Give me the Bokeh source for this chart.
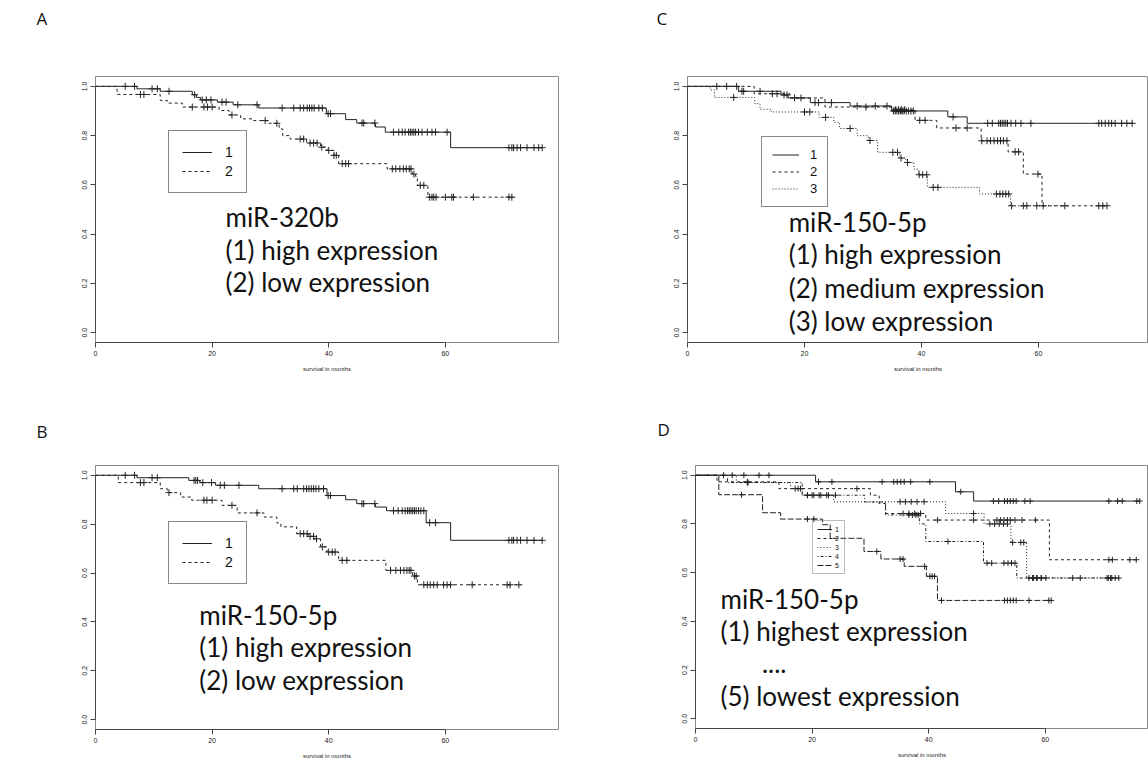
import numpy as np
from bokeh.plotting import figure
from bokeh.layouts import column, row
from bokeh.models import Label, Legend, LegendItem, FixedTicker, Range1d, NumeralTickFormatter, Title
from bokeh.embed import file_html
from bokeh.resources import INLINE

# ---------------- data ----------------
X_TICKS = [0, 20, 40, 60]
Y_TICKS = [0.0, 0.2, 0.4, 0.6, 0.8, 1.0]
X_LABEL = "survival in months"

# Panel A : miR-320b
A1_t = [7.1, 11.1, 16.6, 17.3, 18.0, 20.9, 23.6, 28.0, 39.6, 42.9, 44.8, 48.0, 49.7, 60.9]
A1_s = [0.99, 0.98, 0.966, 0.955, 0.945, 0.936, 0.925, 0.912, 0.889, 0.865, 0.851, 0.835, 0.814, 0.751]
A1_c = [5.1, 6.7, 9.7, 10.6, 12.6, 17.0, 18.3, 19.0, 19.8, 21.7, 22.4, 24.4, 27.7, 32.0, 34.0, 35.1, 35.7,
        36.3, 36.7, 37.1, 37.5, 38.3, 38.9, 39.9, 40.3, 45.7, 46.0, 47.9, 51.1, 52.0, 52.6, 53.1, 53.7,
        54.0, 54.3, 54.6, 54.9, 55.4, 56.0, 56.9, 57.7, 58.3, 60.3, 70.9, 71.4, 71.7, 72.3, 72.9, 74.0,
        75.2, 76.0, 76.6]
A1_end = 76.6
A2_t = [3.7, 11.1, 12.3, 14.9, 21.2, 22.9, 24.9, 27.1, 29.5, 31.5, 32.1, 33.4, 36.2, 38.6, 39.7, 40.9,
        41.7, 50.0, 54.3, 54.9, 55.2, 57.0]
A2_s = [0.967, 0.943, 0.932, 0.916, 0.902, 0.884, 0.868, 0.861, 0.85, 0.827, 0.80, 0.786, 0.77, 0.753,
        0.74, 0.72, 0.686, 0.665, 0.644, 0.634, 0.598, 0.55]
A2_c = [7.7, 8.3, 16.6, 18.6, 19.2, 20.0, 23.4, 29.1, 31.1, 35.1, 35.7, 36.8, 37.4, 38.0, 38.8, 40.0,
        40.9, 41.3, 42.3, 42.9, 43.4, 50.9, 51.5, 52.2, 52.8, 53.3, 53.8, 54.1, 54.6, 55.7, 56.3, 57.3,
        57.7, 58.0, 58.4, 60.0, 61.1, 61.4, 64.8, 70.9, 71.4]
A2_end = 71.7

# Panel B : miR-150-5p, 2 groups
B1_t = [7.1, 16.0, 17.9, 20.6, 28.0, 39.7, 42.9, 44.8, 48.0, 49.9, 56.7, 60.9]
B1_s = [0.99, 0.979, 0.97, 0.959, 0.945, 0.917, 0.90, 0.884, 0.87, 0.855, 0.806, 0.734]
B1_c = [5.1, 6.7, 9.7, 10.6, 16.9, 17.2, 17.5, 18.4, 19.9, 21.4, 22.1, 24.6, 32.0, 34.0, 34.6, 35.7,
        36.2, 36.6, 37.0, 37.4, 37.8, 38.3, 39.1, 39.9, 40.3, 45.7, 46.0, 47.9, 51.1, 51.9, 52.6, 53.1,
        53.5, 53.8, 54.1, 54.4, 54.7, 55.0, 55.4, 55.8, 56.3, 57.3, 58.3, 70.9, 71.4, 71.7, 72.3, 72.9,
        74.0, 75.2, 76.6]
B1_end = 76.6
B2_t = [3.9, 11.1, 12.3, 14.6, 16.5, 21.7, 24.3, 28.9, 31.1, 31.8, 34.5, 36.5, 37.6, 38.6, 39.7, 41.7,
        49.8, 54.4, 55.2]
B2_s = [0.97, 0.945, 0.929, 0.911, 0.898, 0.877, 0.846, 0.829, 0.805, 0.789, 0.761, 0.75, 0.74, 0.707,
        0.686, 0.652, 0.611, 0.588, 0.552]
B2_c = [7.7, 8.3, 12.6, 18.6, 19.1, 20.0, 23.4, 27.7, 35.1, 35.7, 36.3, 36.8, 37.4, 37.9, 38.9, 40.0,
        40.6, 41.1, 42.3, 43.1, 50.6, 51.5, 52.3, 52.9, 53.4, 53.8, 54.1, 54.7, 55.0, 56.3, 56.9, 57.4,
        58.0, 58.6, 59.7, 60.3, 60.9, 64.6, 70.6, 71.1, 72.6]
B2_end = 72.9

# Panel C : miR-150-5p, 3 groups
C1_t = [8.7, 16.0, 17.2, 21.0, 27.8, 34.9, 44.5, 47.8]
C1_s = [0.98, 0.965, 0.953, 0.934, 0.92, 0.90, 0.876, 0.85]
C1_c = [5.0, 6.7, 9.3, 9.6, 12.4, 16.5, 17.0, 18.3, 19.4, 21.8, 22.4, 24.6, 29.0, 32.1, 34.1, 35.2, 35.5,
        35.8, 36.1, 36.4, 36.7, 37.0, 37.4, 37.8, 38.2, 38.6, 45.4, 51.3, 52.1, 53.2, 53.5, 53.8, 54.1,
        54.4, 54.7, 55.3, 56.1, 57.0, 58.7, 70.3, 70.8, 71.4, 72.0, 72.5, 73.1, 74.2, 75.1, 76.0]
C1_end = 76.2
C2_t = [11.4, 17.5, 23.5, 35.5, 38.9, 42.6, 50.2, 54.8, 57.4, 60.6]
C2_s = [0.97, 0.953, 0.916, 0.905, 0.862, 0.831, 0.779, 0.734, 0.644, 0.515]
C2_c = [8.4, 14.5, 15.3, 30.5, 35.6, 36.1, 36.6, 37.1, 39.7, 40.6, 45.9, 47.8, 50.3, 51.2, 51.8, 52.4,
        53.0, 53.5, 54.0, 54.6, 56.0, 56.6, 59.9, 60.8, 70.3, 71.0, 71.7]
C2_end = 71.8
C3_t = [3.9, 4.6, 11.5, 12.4, 14.3, 22.5, 25.0, 26.0, 29.0, 30.9, 32.5, 36.2, 37.3, 38.7, 39.5, 41.0,
        49.9, 55.2]
C3_s = [0.985, 0.955, 0.93, 0.907, 0.896, 0.874, 0.854, 0.829, 0.80, 0.78, 0.732, 0.709, 0.691, 0.664,
        0.641, 0.59, 0.563, 0.515]
C3_c = [7.9, 20.0, 20.9, 23.6, 27.8, 31.2, 35.1, 35.9, 36.5, 37.6, 39.6, 40.2, 40.9, 42.0, 42.8, 52.8,
        53.4, 53.9, 54.4, 54.9, 55.4, 57.4, 58.0, 59.7, 64.5]
C3_end = 64.5

# Panel D : miR-150-5p, 5 groups
D1_t = [20.6, 44.6, 47.7]
D1_s = [0.973, 0.932, 0.894]
D1_c = [4.8, 6.3, 8.3, 10.9, 12.6, 21.1, 23.4, 32.0, 34.0, 34.6, 35.2, 35.8, 36.9, 40.2, 45.5, 51.1,
        52.0, 53.0, 53.5, 54.0, 54.5, 55.0, 56.5, 57.4, 70.9, 72.4, 73.2, 75.7, 76.2]
D1_end = 76.3
D2_t = [3.7, 14.3, 30.0, 31.5, 32.6, 39.5, 60.7]
D2_s = [0.973, 0.945, 0.918, 0.884, 0.843, 0.816, 0.653]
D2_c = [8.9, 27.7, 35.6, 36.6, 37.6, 38.6, 41.5, 47.7, 51.7, 52.3, 52.9, 53.5, 54.0, 54.8, 56.0, 58.3,
        70.9, 71.5, 74.5, 75.6]
D2_end = 75.8
D3_t = [7.0, 16.3, 18.3, 23.7, 42.9, 49.5, 54.1, 56.8]
D3_s = [0.97, 0.945, 0.918, 0.891, 0.843, 0.80, 0.724, 0.578]
D3_c = [8.9, 17.1, 17.6, 18.0, 19.2, 20.3, 21.5, 22.8, 35.1, 36.0, 37.0, 38.0, 39.2, 47.7, 50.5, 51.3,
        52.1, 52.8, 53.5, 54.4, 55.8, 56.3, 57.2, 57.8, 58.5, 59.3, 60.1, 64.7, 70.6, 71.2, 72.0, 72.6]
D3_end = 72.6
D4_t = [5.5, 18.3, 29.0, 32.6, 38.4, 39.5, 49.4, 55.1]
D4_s = [0.97, 0.918, 0.89, 0.837, 0.80, 0.728, 0.639, 0.578]
D4_c = [9.0, 19.2, 20.0, 21.2, 22.5, 24.0, 36.6, 37.2, 37.8, 38.2, 43.3, 50.0, 50.8, 52.9, 53.6, 54.2,
        54.8, 58.0, 58.6, 59.3, 66.0, 70.8, 71.4]
D4_end = 72.0
D5_t = [4.0, 11.5, 14.6, 21.8, 23.1, 28.9, 31.8, 35.8, 39.6, 41.5]
D5_s = [0.92, 0.846, 0.82, 0.797, 0.741, 0.687, 0.656, 0.626, 0.585, 0.486]
D5_c = [7.9, 19.2, 20.3, 31.1, 35.1, 35.6, 39.3, 40.2, 40.6, 41.0, 42.2, 53.0, 53.5, 54.0, 54.5, 55.0,
        57.2, 60.6, 61.0]
D5_end = 61.1

TEXT_A = ["miR-320b", "(1) high expression", "(2) low expression"]
TEXT_B = ["miR-150-5p", "(1) high expression", "(2) low expression"]
TEXT_C = ["miR-150-5p", "(1) high expression", "(2) medium expression", "(3) low expression"]
TEXT_D = ["miR-150-5p", "(1) highest expression", "....", "(5) lowest expression"]
PANEL_LETTERS = ["A", "B", "C", "D"]

# ---------------- styling ----------------
LINE = "#222222"
DASH = {1: "solid", 2: "3 3", 3: "1 2", 4: "1 2 3 2", 5: "6 2"}
BIG_FONT = "Lato"
BIG_SIZE = "26px"


def km_xy(times, surv, end):
    return [0.0] + list(times) + [end], [1.0] + list(surv) + [surv[-1]]


def km_at(times, surv, cens):
    t = np.asarray(times, dtype=float)
    s = np.asarray(surv, dtype=float)
    idx = np.searchsorted(t, np.asarray(cens, dtype=float), side="right") - 1
    return [1.0 if i < 0 else float(s[i]) for i in idx]


def make_fig(x_end, fw, fh, left, right, top, bottom, letter, letter_offset, letter_gap):
    p = figure(width=left + fw + right, height=top + fh + bottom,
               frame_width=fw, frame_height=fh,
               min_border_left=left, min_border_right=right,
               min_border_top=top, min_border_bottom=bottom,
               x_range=Range1d(0, x_end), y_range=Range1d(-0.04, 1.04),
               output_backend="svg", toolbar_location=None)
    p.outline_line_color = "#8a8a8a"
    p.outline_line_width = 1
    p.grid.visible = False
    for ax in (p.xaxis[0], p.yaxis[0]):
        ax.major_tick_in = 0
        ax.major_tick_out = 5
        ax.minor_tick_line_color = None
        ax.axis_line_color = "#444444"
        ax.major_tick_line_color = "#444444"
        ax.major_label_text_font = "Liberation Sans"
        ax.major_label_text_font_size = "7px"
        ax.major_label_text_color = "#222222"
        ax.major_label_standoff = 3
    p.xaxis.ticker = FixedTicker(ticks=X_TICKS)
    p.yaxis.ticker = FixedTicker(ticks=Y_TICKS)
    p.xaxis.bounds = (X_TICKS[0], X_TICKS[-1])
    p.yaxis.bounds = (Y_TICKS[0], Y_TICKS[-1])
    p.yaxis.formatter = NumeralTickFormatter(format="0.0")
    p.xaxis.formatter = NumeralTickFormatter(format="0")
    p.yaxis.major_label_orientation = "vertical"
    p.xaxis.axis_label = X_LABEL
    p.xaxis.axis_label_text_font = "Liberation Sans"
    p.xaxis.axis_label_text_font_size = "6px"
    p.xaxis.axis_label_text_font_style = "normal"
    p.xaxis.axis_label_text_color = "#222222"
    p.xaxis.axis_label_standoff = 7
    # spacer between frame and the panel letter
    p.add_layout(Title(text=" ", text_font_size="1px", standoff=letter_gap), "above")
    # panel letter as the plot title
    p.title.text = letter
    p.title.align = "left"
    p.title.vertical_align = "bottom"
    p.title.offset = letter_offset
    p.title.standoff = 0
    p.title.text_font = "Open Sans"
    p.title.text_font_size = "17px"
    p.title.text_font_style = "normal"
    p.title.text_color = "#111111"
    return p


def add_curves(p, curves, mk_size):
    rends = []
    for k, (t, s, c, end) in enumerate(curves, start=1):
        xs, ys = km_xy(t, s, end)
        r = p.step(xs, ys, mode="after", line_color=LINE, line_width=1, line_dash=DASH[k])
        p.scatter(c, km_at(t, s, c), marker="cross", size=mk_size, line_color=LINE, line_width=1)
        rends.append(r)
    return rends


def add_legend(p, rends, loc, font_size, glyph_w, item_h, pad, standoff, spacing, lab_w,
               border_color, border_w):
    items = [LegendItem(label=str(i + 1), renderers=[r]) for i, r in enumerate(rends)]
    lg = Legend(items=items, location=loc, orientation="vertical",
                label_text_font="Liberation Sans", label_text_font_size=font_size,
                label_text_color="#111111",
                glyph_width=glyph_w, glyph_height=item_h, label_height=item_h,
                label_width=lab_w, label_standoff=standoff, padding=pad, spacing=spacing,
                border_line_color=border_color, border_line_width=border_w,
                background_fill_alpha=0.0, margin=0)
    p.add_layout(lg)


def add_texts(p, lines, xs, ys):
    for txt, x, y in zip(lines, xs, ys):
        p.add_layout(Label(x=x, y=y, text=txt, text_font=BIG_FONT, text_font_size=BIG_SIZE,
                           text_color="#111111", text_baseline="middle", text_align="left"))


# ---------------- panel A ----------------
pA = make_fig(79.4, 463, 266, 95, 50, 76, 38, PANEL_LETTERS[0], -59, 44)
rA = add_curves(pA, [(A1_t, A1_s, A1_c, A1_end), (A2_t, A2_s, A2_c, A2_end)], 7)
add_legend(pA, rA, (73, 149), "14px", 30, 16, 13, 13, 3, 8, "#111111", 1.5)
add_texts(pA, TEXT_A, [22.3] * 3, [0.47, 0.334, 0.207])

# ---------------- panel C ----------------
pC = make_fig(78.8, 461, 266, 79, 0, 76, 38, PANEL_LETTERS[2], -31, 44)
rC = add_curves(pC, [(C1_t, C1_s, C1_c, C1_end), (C2_t, C2_s, C2_c, C2_end),
                     (C3_t, C3_s, C3_c, C3_end)], 7)
add_legend(pC, rC, (74, 135), "13px", 27, 15, 10, 11, 2, 7, "#111111", 1.5)
add_texts(pC, TEXT_C, [17.3] * 4, [0.448, 0.319, 0.183, 0.048])

# ---------------- panel B ----------------
pB = make_fig(79.4, 463, 264, 95, 50, 83, 35, PANEL_LETTERS[1], -59, 20)
rB = add_curves(pB, [(B1_t, B1_s, B1_c, B1_end), (B2_t, B2_s, B2_c, B2_end)], 7)
add_legend(pB, rB, (73, 145), "14px", 30, 16, 13, 13, 3, 8, "#111111", 1.5)
add_texts(pB, TEXT_B, [17.8] * 3, [0.429, 0.299, 0.163])

# ---------------- panel D ----------------
pD = make_fig(77.7, 453, 263, 87, 0, 85, 34, PANEL_LETTERS[3], -38, 22)
rD = add_curves(pD, [(D1_t, D1_s, D1_c, D1_end), (D2_t, D2_s, D2_c, D2_end),
                     (D3_t, D3_s, D3_c, D3_end), (D4_t, D4_s, D4_c, D4_end),
                     (D5_t, D5_s, D5_c, D5_end)], 6)
add_legend(pD, rD, (117, 154), "7px", 15, 8, 4, 3, 1, 5, "#777777", 1)
add_texts(pD, TEXT_D, [4.3, 4.3, 11.4, 4.3], [0.49, 0.36, 0.229, 0.095])

layout = column(row(pA, pC, spacing=0), row(pB, pD, spacing=0), spacing=0)
open("out.html", "w").write(file_html(layout, INLINE))
